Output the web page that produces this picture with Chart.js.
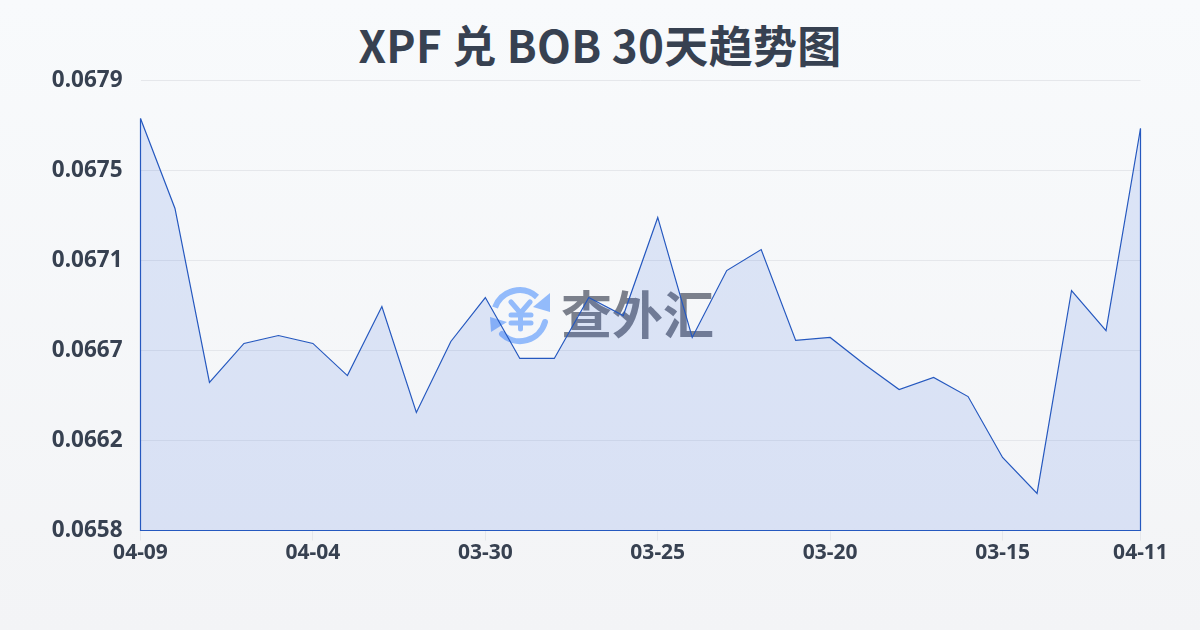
<!DOCTYPE html>
<html lang="zh">
<head>
<meta charset="utf-8">
<title>XPF 兑 BOB 30天趋势图</title>
<script src="https://cdn.jsdelivr.net/npm/chart.js@4/dist/chart.umd.min.js"></script>
<style>
  html, body { margin: 0; padding: 0; }
  body {
    width: 1200px; height: 630px; overflow: hidden; position: relative;
    background: linear-gradient(180deg, #f8fafc 0%, #f3f4f6 100%);
  }
  #title {
    position: absolute; left: 0; top: -1px; width: 1200px; text-align: center; letter-spacing: 0.3px;
    font: 700 44px/90px "Noto Sans CJK SC", "Noto Sans", sans-serif; color: #374151;
  }
  #mark { position: absolute; left: 488px; top: 283px; }
  #markText {
    position: absolute; left: 561px; top: 277px;
    font: 700 51px/70px "Noto Sans CJK SC", sans-serif; color: #7b808c; white-space: nowrap;
  }
  #chart { position: absolute; left: 0; top: 0; }
</style>
</head>
<body>
<div id="title">XPF 兑 BOB 30天趋势图</div>
<svg id="mark" width="64" height="64" viewBox="0 0 64 64" fill="none">
  <path d="M7 24.5 A26 26 0 0 1 49 14" stroke="#93bbfb" stroke-width="6"/>
  <path d="M62 10 L62 29 L45 24 Z" fill="#93bbfb"/>
  <path d="M57 39 A26 26 0 0 1 14 51" stroke="#93bbfb" stroke-width="6" stroke-linecap="round"/>
  <path d="M2 34 L3 49 L19 39 Z" fill="#93bbfb"/>
  <path d="M23 19 L32.5 30 L42 19 M23 32 H43 M23 40 H43 M32.5 30 V46" stroke="#93bbfb" stroke-width="5" stroke-linecap="round" stroke-linejoin="round"/>
</svg>
<div id="markText">查外汇</div>
<canvas id="chart" width="1200" height="630"></canvas>
<script>
const dates = [
  '04-09', '04-08', '04-07', '04-06', '04-05', '04-04', '04-03', '04-02', '04-01', '03-31',
  '03-30', '03-29', '03-28', '03-27', '03-26', '03-25', '03-24', '03-23', '03-22', '03-21',
  '03-20', '03-19', '03-18', '03-17', '03-16', '03-15', '03-14', '03-13', '03-12', '04-11',
];

const rates = [
  0.067723, 0.067303, 0.066491, 0.066673, 0.066710, 0.066673, 0.066523, 0.066845, 0.066351, 0.066682,
  0.066887, 0.066603, 0.066603, 0.066887, 0.066803, 0.067261, 0.066701, 0.067013, 0.067111, 0.066687,
  0.066701, 0.066575, 0.066458, 0.066514, 0.066425, 0.066141, 0.065973, 0.066920, 0.066733, 0.067676,
];

const yTickLabels = ['0.0658', '0.0662', '0.0667', '0.0671', '0.0675', '0.0679'];
const xTickIndexes = [0, 5, 10, 15, 20, 25, 29];

const lineCol = '#2558bf';
const textCol = '#374151';
const gridCol = '#e5e7eb';
const tickFont = { family: '"Noto Sans", sans-serif', weight: '700' };

// closes the area outline down the sides and along the bottom
const outlinePlugin = {
  id: 'outline',
  afterDatasetsDraw(chart) {
    const { ctx, chartArea: a } = chart;
    const y = chart.scales.y;
    ctx.save();
    ctx.strokeStyle = lineCol;
    ctx.lineWidth = 1.2;
    ctx.beginPath();
    ctx.moveTo(a.left, y.getPixelForValue(rates[0]));
    ctx.lineTo(a.left, a.bottom);
    ctx.lineTo(a.right, a.bottom);
    ctx.lineTo(a.right, y.getPixelForValue(rates[rates.length - 1]));
    ctx.stroke();
    ctx.restore();
  },
};

new Chart(document.getElementById('chart'), {
  type: 'line',
  data: {
    labels: dates,
    datasets: [{
      data: rates,
      borderColor: lineCol,
      backgroundColor: 'rgba(37,90,225,0.13)',
      borderWidth: 1.2,
      fill: true,
      tension: 0,
      pointRadius: 0,
    }],
  },
  options: {
    responsive: false,
    animation: false,
    devicePixelRatio: 1,
    layout: { padding: { left: 0, right: 59.5, top: 80.5, bottom: 59.5 } },
    plugins: {
      legend: { display: false },
      tooltip: { enabled: false },
    },
    scales: {
      x: {
        border: { display: false },
        grid: {
          drawOnChartArea: false,
          drawTicks: true,
          tickLength: 10,
          color: ctx => (ctx.tick && xTickIndexes.includes(ctx.tick.value) ? gridCol : 'transparent'),
        },
        ticks: {
          autoSkip: false,
          maxRotation: 0,
          padding: 0,
          color: textCol,
          font: { ...tickFont, size: 21 },
          callback(v, i) { return xTickIndexes.includes(i) ? dates[i] : ''; },
        },
        afterFit(s) { s.height = 40; },
      },
      y: {
        min: 0.0658,
        max: 0.0679,
        border: { display: false },
        grid: { color: gridCol, drawTicks: false },
        ticks: {
          stepSize: 0.00042,
          padding: 18,
          color: textCol,
          font: { ...tickFont, size: 22.5 },
          callback(v, i) { return yTickLabels[i]; },
        },
        afterFit(s) { s.width = 140.5; },
      },
    },
  },
  plugins: [outlinePlugin],
});
</script>
</body>
</html>
